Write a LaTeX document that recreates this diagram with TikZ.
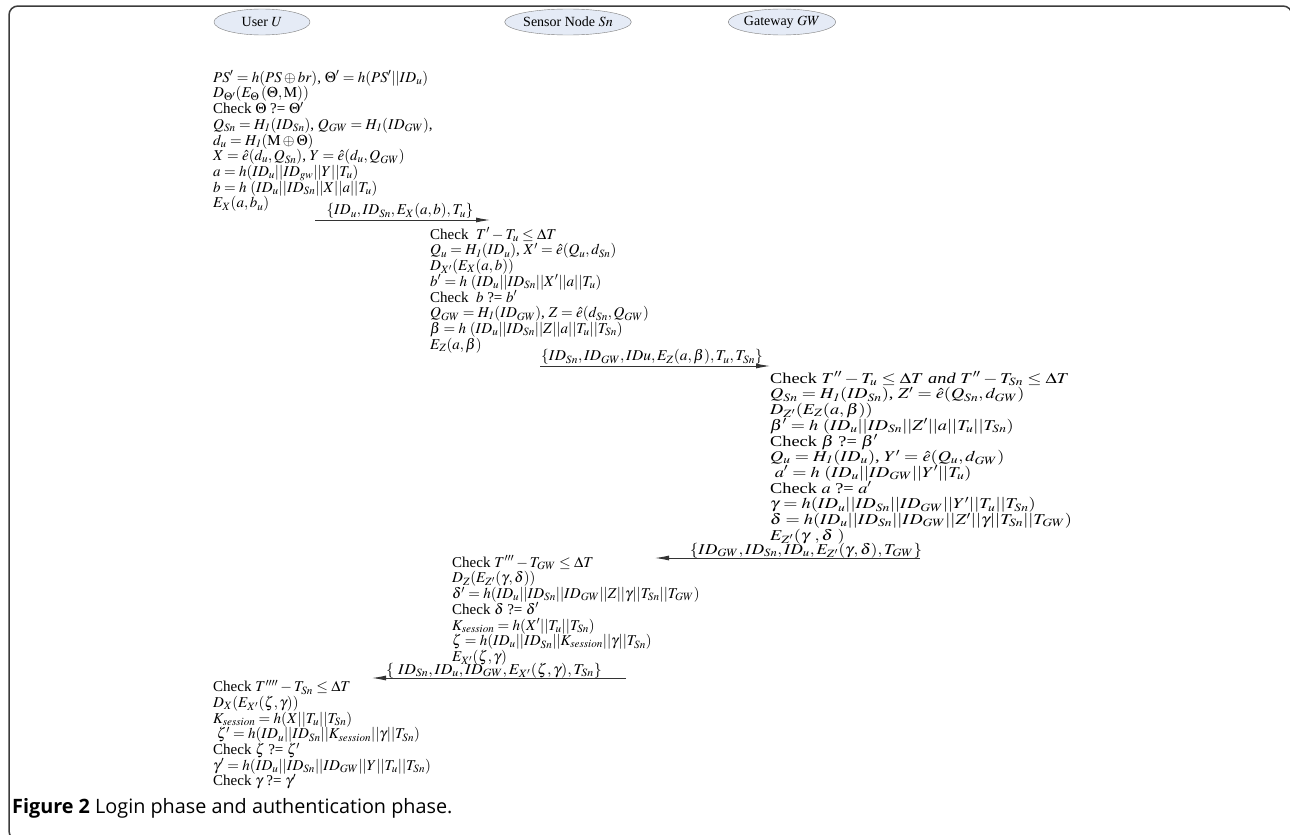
\documentclass[tikz,border=0pt]{standalone}
\usepackage{mathptmx}
\usepackage[no-math]{fontspec}
\usepackage{graphicx}
\setmainfont{Liberation Serif}
\newfontfamily\capfont{Open Sans}
\usetikzlibrary{shapes.geometric,arrows.meta}

\definecolor{actorfill}{RGB}{229,235,246}
\definecolor{actorline}{RGB}{125,125,125}
\definecolor{framecol}{RGB}{60,60,60}

\tikzset{
  actor/.style={ellipse, draw=actorline, fill=actorfill, minimum width=96pt,
    minimum height=26pt, inner sep=0pt, font=\fontsize{14}{16}\selectfont},
  compute/.style={anchor=north west, inner sep=0pt, align=left,
    font={\fontsize{15}{15.7}\selectfont\lineskiplimit=-20pt}},
  widecompute/.style={anchor=north west, inner sep=0pt,
    font={\fontsize{15}{15.7}\selectfont}},
  msg/.style={inner sep=0pt, font=\fontsize{15}{15.7}\selectfont},
  flow/.style={draw=black!80, line width=0.9pt, -{Latex[length=14pt,width=5pt]}}
}

\begin{document}
\begin{tikzpicture}[x=1pt,y=-1pt]
\useasboundingbox (0,0) rectangle (1290,835);

% frame and caption
\draw[framecol, line width=1.5pt, rounded corners=9pt] (9,840) rectangle (1292,6);
\node[anchor=west, inner sep=0pt, font=\capfont\fontsize{19.8}{22}\selectfont] (cap) at (12,808)
  {\textbf{Figure 2} Login phase and authentication phase.};

% parties
\node[actor] (hU) at (262,22) {User $U$};
\node[actor, minimum width=100pt] (hSn) at (568,22) {Sensor Node $Sn$};
\node[actor] (hGW) at (782,22) {Gateway $GW$};

% user: login
\node[compute] (user1) at (213,70.5) {\strut$PS' = h(PS \oplus br)$, $\Theta' = h(PS'||ID_u)$\\
$D_{\Theta'}(E_\Theta\,(\Theta, \mathrm{M}))$\\
Check $\Theta$ ?= $\Theta'$\\
$Q_{Sn} = H_{\mathit 1}(ID_{Sn})$, $Q_{GW} = H_{\mathit 1}(ID_{GW})$,\\
$d_u = H_{\mathit 1}(\mathrm{M} \oplus \Theta)$\\
$X = \hat{e}(d_u, Q_{Sn})$, $Y = \hat{e}(d_u, Q_{GW})$\\
$a = h(ID_u||ID_{gw}||Y||T_u)$\\
$b = h\ (ID_u||ID_{Sn}||X||a||T_u)$\\
$E_X(a, b_u)$};

\coordinate (m1s) at (315,220);
\coordinate (m1e) at (490,220);
\draw[flow] (m1s) -- (m1e);
\node[msg] (m1) at (400,211) {$\{ID_u, ID_{Sn}, E_X(a, b), T_u\}$};

% sensor node
\node[compute] (sensor1) at (430,227.5) {\strut Check\ \ $T' - T_u \le \Delta T$\\
$Q_u = H_{\mathit 1}(ID_u)$, $X' = \hat{e}(Q_u, d_{Sn})$\\
$D_{X'}(E_X(a, b))$\\
$b' = h\ (ID_u||ID_{Sn}||X'||a||T_u)$\\
Check\ \ $b$ ?= $b'$\\
$Q_{GW} = H_{\mathit 1}(ID_{GW})$, $Z = \hat{e}(d_{Sn}, Q_{GW})$\\
$\beta = h\ (ID_u||ID_{Sn}||Z||a||T_u||T_{Sn})$\\
$E_Z(a, \beta)$};

\coordinate (m2s) at (540,366);
\coordinate (m2e) at (770,366);
\draw[flow] (m2s) -- (m2e);
\node[msg] (m2) at (652,357) {\scalebox{1.03}[1]{$\{ID_{Sn}, ID_{GW}, IDu, E_Z(a, \beta), T_u, T_{Sn}\}$}};

% gateway
\node[widecompute] (gw1) at (770,371.5) {\scalebox{1.22}[1]{\vtop{\baselineskip=15.7pt\lineskiplimit=-20pt
\hbox{\strut Check $T'' - T_u \le \Delta T$ \textit{and} $T'' - T_{Sn} \le \Delta T$}
\hbox{$Q_{Sn} = H_{\mathit 1}(ID_{Sn})$, $Z' = \hat{e}(Q_{Sn}, d_{GW})$}
\hbox{$D_{Z'}(E_Z(a, \beta))$}
\hbox{$\beta' = h\ (ID_u||ID_{Sn}||Z'||a||T_u||T_{Sn})$}
\hbox{Check $\beta$ ?= $\beta'$}
\hbox{$Q_u = H_{\mathit 1}(ID_u)$, $Y' = \hat{e}(Q_u, d_{GW})$}
\hbox{\ $a' = h\ (ID_u||ID_{GW}||Y'||T_u)$}
\hbox{Check $a$ ?= $a'$}
\hbox{$\gamma = h(ID_u||ID_{Sn}||ID_{GW}||Y'||T_u||T_{Sn})$}
\hbox{$\delta = h(ID_u||ID_{Sn}||ID_{GW}||Z'||\gamma||T_{Sn}||T_{GW})$}
\hbox{$E_{Z'}(\gamma\ ,\delta\ )$}}}};

\coordinate (m3s) at (920,558);
\coordinate (m3e) at (655,558);
\draw[flow] (m3s) -- (m3e);
\node[msg] (m3) at (806,550.5) {\scalebox{1.14}[1]{$\{ID_{GW}, ID_{Sn}, ID_u, E_{Z'}(\gamma, \delta), T_{GW}\}$}};

% sensor node: session key
\node[compute] (sensor2) at (452,555.5) {\strut Check $T''' - T_{GW} \le \Delta T$\\
$D_Z(E_{Z'}(\gamma, \delta))$\\
$\delta' = h(ID_u||ID_{Sn}||ID_{GW}||Z||\gamma||T_{Sn}||T_{GW})$\\
Check $\delta$ ?= $\delta'$\\
$K_{session} = h(X'||T_u||T_{Sn})$\\
$\zeta = h(ID_u||ID_{Sn}||K_{session}||\gamma||T_{Sn})$\\
$E_{X'}(\zeta, \gamma)$};

\coordinate (m4s) at (626,678);
\coordinate (m4e) at (372,678);
\draw[flow] (m4s) -- (m4e);
\node[msg] (m4) at (494,670.5) {\scalebox{1.07}[1]{$\{\ ID_{Sn}, ID_u, ID_{GW}, E_{X'}(\zeta, \gamma), T_{Sn}\}$}};

% user: verification
\node[compute] (user2) at (213,680) {\strut Check $T'''' - T_{Sn} \le \Delta T$\\
$D_X(E_{X'}(\zeta, \gamma))$\\
$K_{session} = h(X||T_u||T_{Sn})$\\
\ $\zeta' = h(ID_u||ID_{Sn}||K_{session}||\gamma||T_{Sn})$\\
Check $\zeta$ ?= $\zeta'$\\
$\gamma' = h(ID_u||ID_{Sn}||ID_{GW}||Y||T_u||T_{Sn})$\\
Check $\gamma$ ?= $\gamma'$};

\end{tikzpicture}
\end{document}
